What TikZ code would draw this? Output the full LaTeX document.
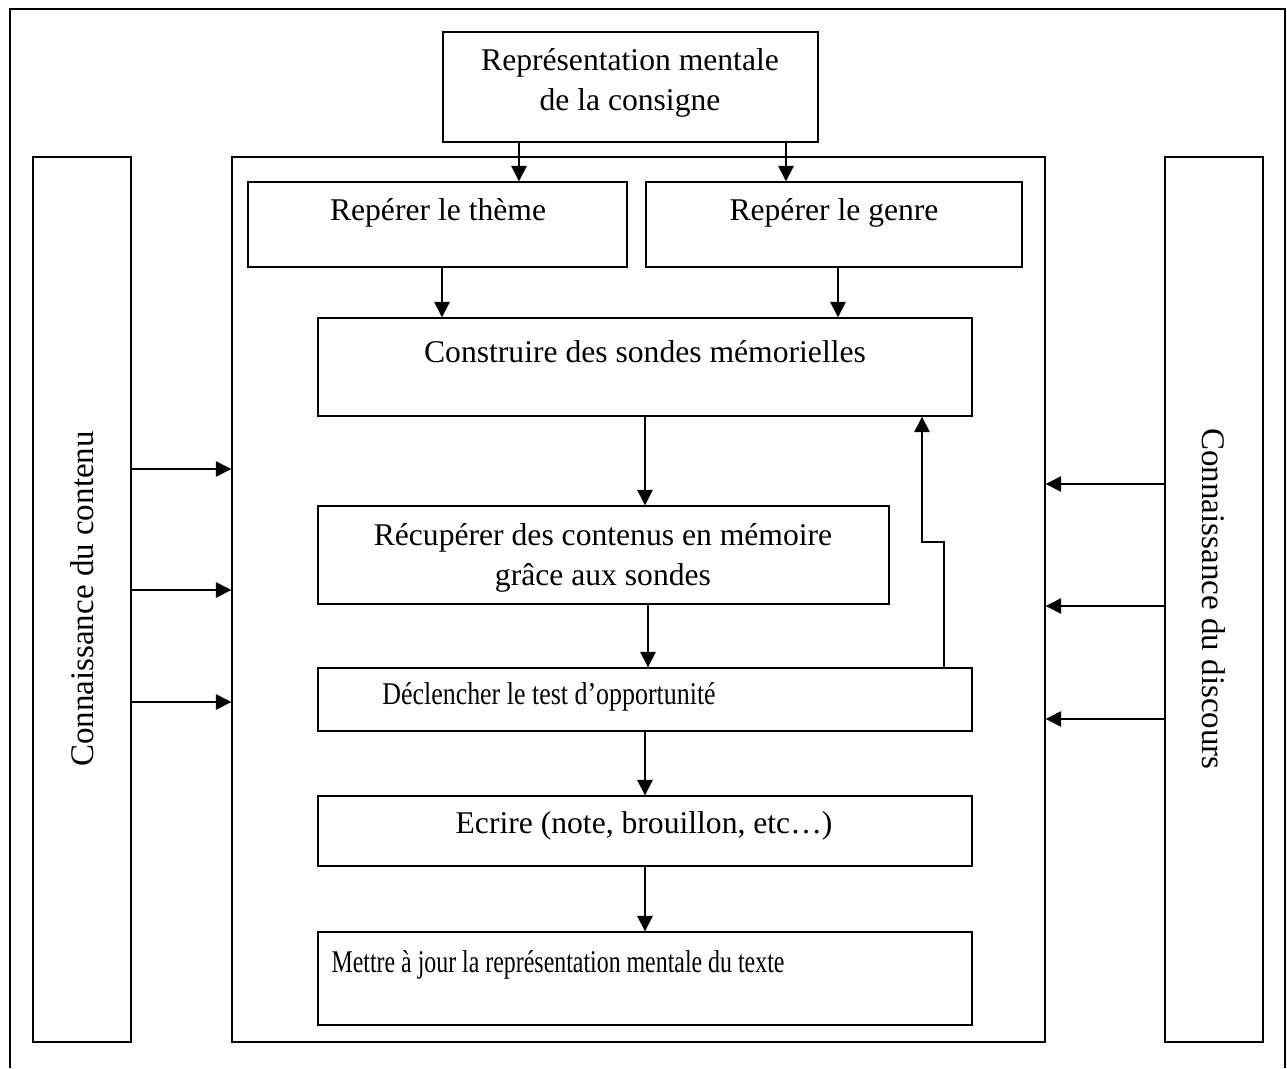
\documentclass[tikz,border=0pt]{standalone}
\usepackage{fontspec}
\setmainfont{Liberation Serif}
\usetikzlibrary{arrows.meta,fit}
\begin{document}
\begin{tikzpicture}[x=0.02cm,y=-0.02cm,
  line width=0.8pt,
  box/.style={draw,rectangle,inner sep=0pt},
  lbl/.style={inner sep=0pt,font=\fontsize{18}{23}\selectfont,align=center},
  sidelbl/.style={inner sep=0pt,font=\fontsize{18.8}{23}\selectfont},
  arr/.style={-{Triangle[length=0.31cm,width=0.31cm]}}]
\useasboundingbox (0,0) rectangle (1287,1068);
% open outer frame
\draw (10,1068) -- (10,9) -- (1285,9) -- (1285,1068);

% side columns and central frame
\node[box,fit={(33,157) (131,1042)}] (left) {};
\node[box,fit={(232,157) (1045,1042)}] (centre) {};
\node[box,fit={(1165,157) (1263,1042)}] (right) {};

% process boxes
\node[box,fit={(443,32) (818,142)}] (consigne) {};
\node[box,fit={(248,182) (627,267)}] (theme) {};
\node[box,fit={(646,182) (1022,267)}] (genre) {};
\node[box,fit={(318,318) (972,416)}] (sondes) {};
\node[box,fit={(318,506) (889,604)}] (recup) {};
\node[box,fit={(318,668) (972,731)}] (test) {};
\node[box,fit={(318,796) (972,866)}] (ecrire) {};
\node[box,fit={(318,932) (972,1025)}] (maj) {};

% texts
\node[lbl] (t-consigne) at (630,83) {Représentation mentale\\de la consigne};
\node[lbl] (t-theme) at (438,213) {Repérer le thème};
\node[lbl] (t-genre) at (834,213) {Repérer le genre};
\node[lbl] (t-sondes) at (645,352) {Construire des sondes mémorielles};
\node[lbl] (t-recup) at (603,558) {Récupérer des contenus en mémoire\\grâce aux sondes};
\node[lbl] (t-test) at (549,697) {\scalebox{0.82}[1]{Déclencher le test d’opportunité}};
\node[lbl] (t-ecrire) at (644,826) {Ecrire (note, brouillon, etc…)};
\node[lbl] (t-maj) at (558,965) {\scalebox{0.755}[1]{Mettre à jour la représentation mentale du texte}};
\node[sidelbl,rotate=90] (t-contenu) at (82,599) {Connaissance du contenu};
\node[sidelbl,rotate=-90] (t-discours) at (1214,599) {Connaissance du discours};

% x positions of the vertical connectors
\coordinate (xa) at (519,0);
\coordinate (xb) at (786,0);
\coordinate (xc) at (442,0);
\coordinate (xd) at (838,0);
\coordinate (xm) at (645,0);
\coordinate (xr) at (648,0);
\coordinate (xu) at (922,0);
\coordinate (xv) at (944,0);
\coordinate (ye) at (0,542);

\draw[arr] (consigne.south -| xa) -- (theme.north -| xa);
\draw[arr] (consigne.south -| xb) -- (genre.north -| xb);
\draw[arr] (theme.south -| xc) -- (sondes.north -| xc);
\draw[arr] (genre.south -| xd) -- (sondes.north -| xd);
\draw[arr] (sondes.south -| xm) -- (recup.north -| xm);
\draw[arr] (recup.south -| xr) -- (test.north -| xr);
\draw[arr] (test.south -| xm) -- (ecrire.north -| xm);
\draw[arr] (ecrire.south -| xm) -- (maj.north -| xm);

% feedback from the test back to the memory probes
\draw[arr] (test.north -| xv) -- (ye -| xv) -- (ye -| xu) -- (sondes.south -| xu);

% knowledge inputs
\foreach \y [count=\i] in {469,590,702} {
  \coordinate (yl\i) at (0,\y);
  \draw[arr] (left.east |- yl\i) -- (centre.west |- yl\i);
}
\foreach \y [count=\i] in {484,606,719} {
  \coordinate (yr\i) at (0,\y);
  \draw[arr] (right.west |- yr\i) -- (centre.east |- yr\i);
}
\end{tikzpicture}
\end{document}
